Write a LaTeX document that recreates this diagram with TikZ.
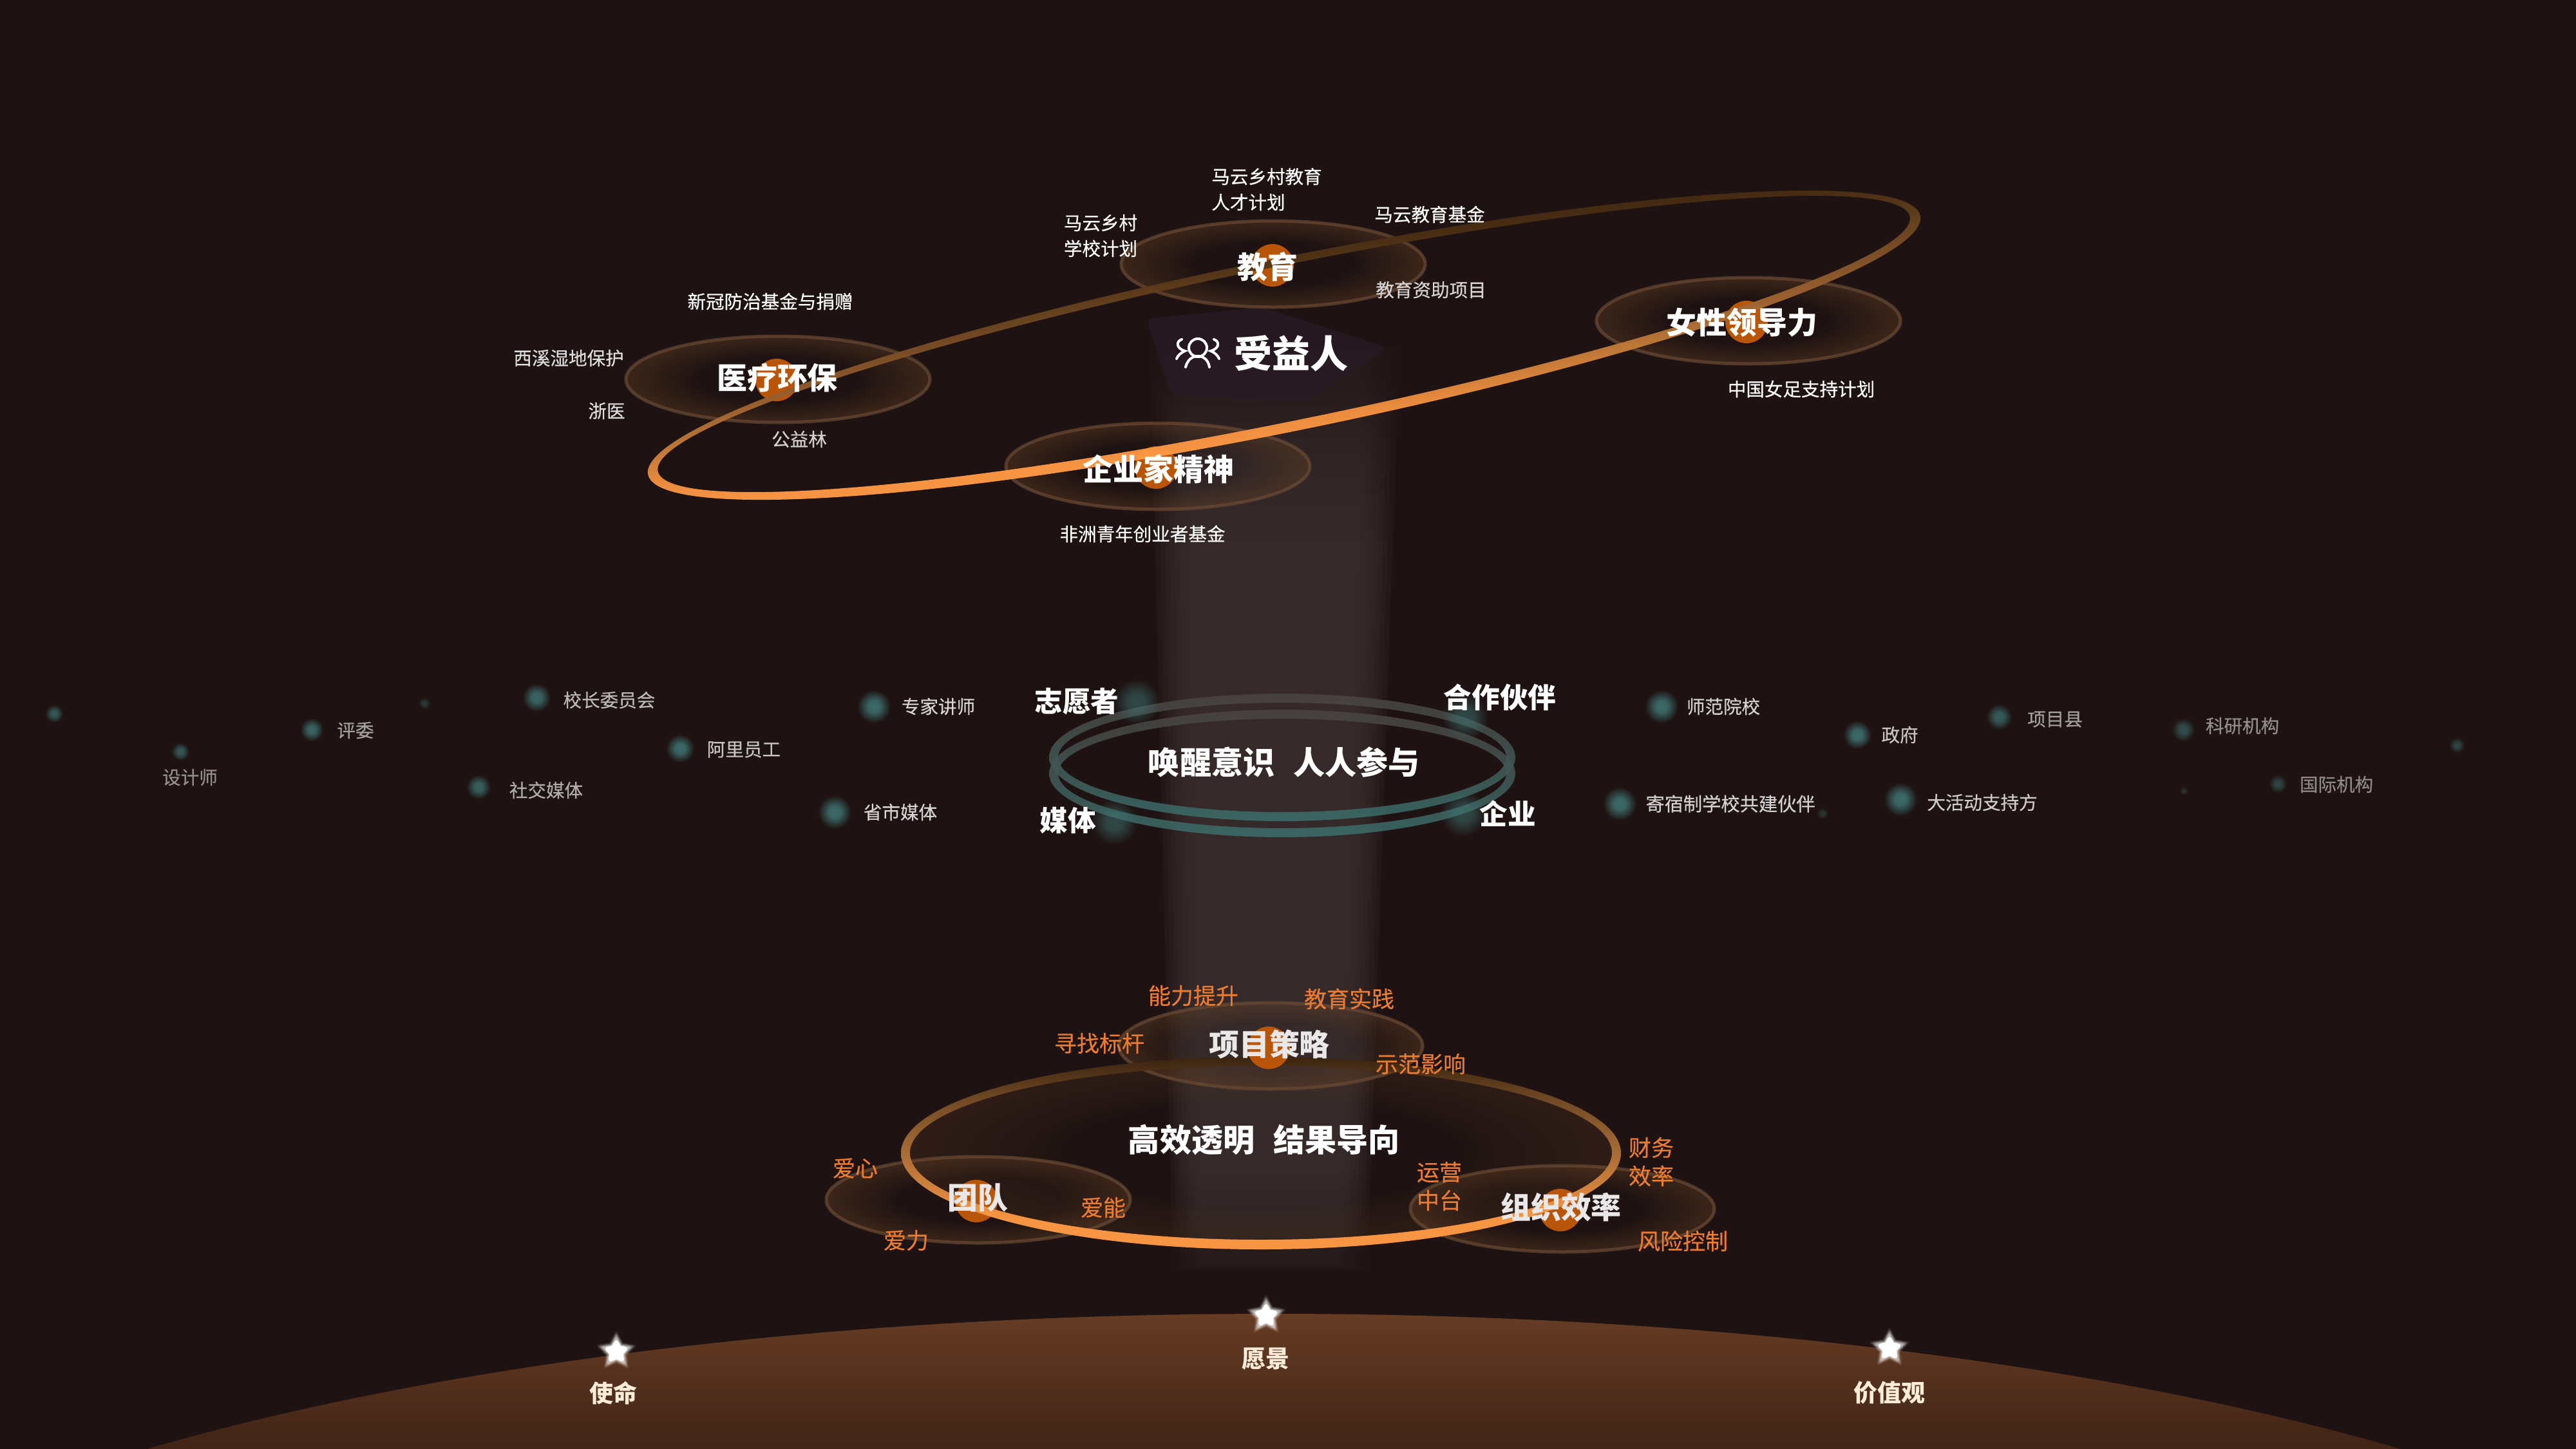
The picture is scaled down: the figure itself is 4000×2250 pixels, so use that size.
\documentclass[tikz,border=0pt]{standalone}
\usepackage{fontspec}
\usetikzlibrary{fadings,shapes.geometric}
\newfontfamily\cjk{Noto Sans CJK SC}
\newfontfamily\cjkmid[FakeBold=0.35]{Noto Sans CJK SC}
\definecolor{bgc}{HTML}{1E1312}
\definecolor{bandc}{HTML}{3C3130}
\definecolor{glowc}{HTML}{6E4526}
\definecolor{rimc}{HTML}{6A4A34}
\definecolor{dotc}{HTML}{B85508}
\definecolor{tealc}{HTML}{3F7573}
\definecolor{tealring}{HTML}{3B6F6C}
\definecolor{ringtop}{HTML}{4A4441}
\definecolor{orangetxt}{HTML}{E97B33}
\definecolor{purplec}{HTML}{281A26}
\definecolor{domet}{HTML}{663C24}
\definecolor{domeb}{HTML}{402416}
\definecolor{orbA}{HTML}{FF9A45}
\definecolor{orbB}{HTML}{F29040}
\definecolor{orbC}{HTML}{C07A38}
\definecolor{orbD}{HTML}{9A6030}
\definecolor{orbE}{HTML}{6B4520}
\definecolor{orbF}{HTML}{4A2F14}
\definecolor{orbG}{HTML}{3A2410}
\definecolor{lowB}{HTML}{AD7038}
\definecolor{lowC}{HTML}{6F4824}
\def\px{0.7113pt}
% fadings
\pgfdeclareverticalshading{colmask}{100bp}{color(0bp)=(pgftransparent!100); color(25bp)=(pgftransparent!100); color(31bp)=(pgftransparent!0); color(63bp)=(pgftransparent!0); color(75bp)=(pgftransparent!100); color(100bp)=(pgftransparent!100)}
\pgfdeclarefading{colfade}{\pgfuseshading{colmask}}
\pgfdeclareradialshading{glowmask}{\pgfpointorigin}{color(0bp)=(pgftransparent!100); color(13bp)=(pgftransparent!100); color(25bp)=(pgftransparent!62); color(50bp)=(pgftransparent!62)}
\pgfdeclarefading{glowfade}{\pgfuseshading{glowmask}}
\pgfdeclareradialshading{softmask}{\pgfpointorigin}{color(0bp)=(pgftransparent!0); color(9bp)=(pgftransparent!10); color(25bp)=(pgftransparent!100); color(50bp)=(pgftransparent!100)}
\pgfdeclarefading{softfade}{\pgfuseshading{softmask}}
% ring shadings
\pgfdeclareverticalshading{orbitup}{100bp}{color(0bp)=(orbA); color(39bp)=(orbA); color(42bp)=(orbB); color(46bp)=(orbC); color(50bp)=(orbD); color(56bp)=(orbE); color(61bp)=(orbF); color(65bp)=(orbG); color(100bp)=(orbG)}
\pgfdeclareverticalshading{orbitlow}{100bp}{color(0bp)=(orbA); color(25bp)=(orbA); color(33bp)=(orbA); color(50bp)=(lowB); color(65bp)=(lowC); color(75bp)=(orbG); color(100bp)=(orbG)}
\tikzset{
  x=0.025cm,y=-0.025cm,
  bene/.style={font=\cjk\bfseries\fontsize{42}{50}\selectfont,text=white,inner sep=0},
  hub/.style={font=\cjk\bfseries\fontsize{33.4}{40}\selectfont,text=white,inner sep=0},
  motto/.style={font=\cjk\bfseries\fontsize{34.9}{42}\selectfont,text=white,inner sep=0},
  party/.style={font=\cjk\bfseries\fontsize{31}{38}\selectfont,text=white,inner sep=0},
  tiny/.style={font=\cjkmid\fontsize{20.3}{28.4}\selectfont,text=white,inner sep=0,align=left},
  far/.style={tiny,text=#1},
  ambertxt/.style={font=\cjkmid\fontsize{24.9}{31.3}\selectfont,text=orangetxt,inner sep=0,align=left},
  foot/.style={font=\cjk\bfseries\fontsize{26.3}{32}\selectfont,text=#1,inner sep=0},
  glowdisc/.style={fill=glowc,path fading=glowfade,fit fading=true},
  rim/.style={draw=rimc,draw opacity=.7,line width=5*\px},
  tealdot/.style={fill=tealc,path fading=softfade,fit fading=true},
  corebead/.style={fill=dotc},
}
\newcommand{\hubglow}[2]{%
  \fill[glowdisc] (#1,#2) ellipse [x radius=236,y radius=67];
  \draw[rim] (#1,#2) ellipse [x radius=236,y radius=67];}
\newcommand{\softdot}[4]{\fill[tealdot,opacity=#4] (#1,#2) circle [radius=#3];}
\newcommand{\glint}[2]{%
  \begin{scope}[shift={(#1,#2)}]
    \foreach \r/\o in {30/.08,27/.12,24/.2,21/.3}{
      \node[star,star points=5,star point ratio=1.9,fill=white,draw=white,line width=4*\px,line join=round,opacity=\o,transparency group,inner sep=0,minimum size=2*\r*0.025cm] at (0,0) {};}
    \node[star,star points=5,star point ratio=1.8,fill=white,draw=white,line width=6*\px,line join=round,inner sep=0,minimum size=2*15*0.025cm] at (0,0) {};
  \end{scope}}
\begin{document}
\begin{tikzpicture}
\useasboundingbox (0,0) rectangle (4000,2250);
\fill[bgc] (0,0) rectangle (4000,2250);
% column
\foreach \k in {0,...,7}{
  \pgfmathsetmacro\la{1785+\k*8}
  \pgfmathsetmacro\ra{2175-\k*8}
  \pgfmathsetmacro\lb{1822+\k*6}
  \pgfmathsetmacro\rb{2122-\k*6}
  \fill[bandc,opacity=.2,path fading=colfade,fit fading=true] (\la,480) -- (\ra,480) -- (\rb,2000) -- (\lb,2000) -- cycle;
}
% purple patch
\fill[purplec,opacity=.75,rounded corners=12*\px] (1780,495) -- (1960,477) -- (2155,540) -- (2027,625) -- (1817,612) -- cycle;
% dome
\begin{scope}
  \clip (1978,2747) ellipse [x radius=2460,y radius=707];
  \shade[top color=domet,bottom color=domeb] (0,2040) rectangle (4000,2250);
\end{scope}
% top hubs glows
\hubglow{1977}{410}
\hubglow{2715}{498}
\hubglow{1208}{589}
\hubglow{1798}{724}
\fill[corebead] (1976,412) circle [radius=33];
\fill[corebead] (2712,500) circle [radius=33];
\fill[corebead] (1206,590) circle [radius=33];
\fill[corebead] (1795,726) circle [radius=33];
% big orbit
\begin{scope}[shift={(1994,536)},rotate=11.5]
  \shade[shading=orbitup,shading angle=6,even odd rule,opacity=.96]
    (0,0) ellipse [x radius=1008,y radius=134]
    (0,-2) ellipse [x radius=992,y radius=120];
\end{scope}
% teal double rings
\foreach \cy in {1176,1201}{
  \shade[top color=ringtop,bottom color=tealring,even odd rule,opacity=.85]
    (1991,\cy) ellipse [x radius=362,y radius=99]
    (1991,\cy) ellipse [x radius=348,y radius=85];
}
\softdot{1765}{1090}{36}{.55}
\softdot{2275}{1113}{36}{.55}
\softdot{1730}{1276}{36}{.55}
\softdot{2272}{1263}{36}{.55}
% lower hub glows
\fill[glowc,opacity=.6,path fading=glowfade,fit fading=true] (1958,1790) ellipse [x radius=556,y radius=148];
\hubglow{1973}{1624}
\hubglow{1519}{1863}
\hubglow{2426}{1877}
\fill[corebead] (1516,1865) circle [radius=33];
\fill[corebead] (2423,1879) circle [radius=33];
\shade[shading=orbitlow,even odd rule,opacity=.96]
  (1958,1790.5) ellipse [x radius=559,y radius=149.5]
  (1958,1790) ellipse [x radius=545,y radius=135];
\fill[corebead] (1970,1627) circle [radius=33];
% scattered dots
\softdot{84}{1108}{14}{.7}
\softdot{659}{1092}{9}{.4}
\softdot{484}{1133}{18}{.85}
\softdot{280}{1167}{14}{.7}
\softdot{833}{1083}{22}{.85}
\softdot{1357}{1097}{26}{.9}
\softdot{1056}{1162}{22}{.9}
\softdot{743}{1222}{19}{.8}
\softdot{1296}{1261}{26}{.9}
\softdot{2580}{1097}{26}{.9}
\softdot{2884}{1141}{22}{.9}
\softdot{3104}{1113}{20}{.75}
\softdot{3390}{1133}{18}{.6}
\softdot{3815}{1157}{12}{.5}
\softdot{3537}{1217}{14}{.5}
\softdot{3391}{1228}{7}{.3}
\softdot{2515}{1248}{26}{.9}
\softdot{2830}{1263}{9}{.35}
\softdot{2951}{1241}{26}{.9}
% icon
\begin{scope}[shift={(1860,548)},draw=white,line width=4*\px,line cap=round]
  \draw (0,-8) circle [radius=14];
  \draw (-19,22) .. controls (-16,10) and (-8,5) .. (0,5) .. controls (8,5) and (16,10) .. (18,22);
  \draw (-25,-21) .. controls (-34,-18) and (-34,-7) .. (-20,-3) .. controls (-27,0) and (-31,4) .. (-33,9);
  \draw (25,-21) .. controls (34,-18) and (34,-7) .. (20,-3) .. controls (27,0) and (31,4) .. (33,9);
\end{scope}
% stars
\glint{957}{2099}
\glint{1966}{2043}
\glint{2934}{2094}
% text top
\node[bene] (benef) at (2005,549) {受益人};
\node[hub] (edu) at (1968,414) {教育};
\node[hub] (women) at (2705,501) {女性领导力};
\node[hub] (med) at (1207,587) {医疗环保};
\node[hub] (ent) at (1799,728) {企业家精神};
\node[tiny] (t1) at (1967,294) {马云乡村教育\\人才计划};
\node[tiny] (t2) at (1709,366) {马云乡村\\学校计划};
\node[tiny] (t3) at (2220,333) {马云教育基金};
\node[far=white!82!bgc] (t4) at (2222,450) {教育资助项目};
\node[tiny] (t5) at (1196,468) {新冠防治基金与捐赠};
\node[far=white!85!bgc] (t6) at (883,556) {西溪湿地保护};
\node[far=white!85!bgc] (t7) at (942,638) {浙医};
\node[far=white!80!bgc] (t8) at (1241,682) {公益林};
\node[tiny] (t9) at (2797,604) {中国女足支持计划};
\node[tiny] (t10) at (1774,829) {非洲青年创业者基金};
% middle
\node[motto] (wake) at (1994,1183) {唤醒意识\hspace{0.6em}人人参与};
\node[party] (p1) at (1672,1089) {志愿者};
\node[party] (p2) at (2329,1083) {合作伙伴};
\node[party] (p3) at (1658,1274) {媒体};
\node[party] (p4) at (2341,1263) {企业};
\node[far=white!60!bgc] (m1) at (552,1134) {评委};
\node[far=white!52!bgc] (m2) at (295,1207) {设计师};
\node[far=white!70!bgc] (m3) at (946,1087) {校长委员会};
\node[far=white!82!bgc] (m4) at (1457,1097) {专家讲师};
\node[far=white!75!bgc] (m5) at (1155,1164) {阿里员工};
\node[far=white!65!bgc] (m6) at (848,1227) {社交媒体};
\node[far=white!82!bgc] (m7) at (1398,1261) {省市媒体};
\node[far=white!80!bgc] (m8) at (2676,1097) {师范院校};
\node[far=white!75!bgc] (m9) at (2950,1141) {政府};
\node[far=white!60!bgc] (m10) at (3191,1117) {项目县};
\node[far=white!52!bgc] (m11) at (3482,1127) {科研机构};
\node[far=white!50!bgc] (m12) at (3628,1218) {国际机构};
\node[far=white!80!bgc,font=\cjkmid\fontsize{20.8}{28.4}\selectfont] (m13) at (2687,1248) {寄宿制学校共建伙伴};
\node[far=white!78!bgc] (m14) at (3078,1246) {大活动支持方};
% bottom
\node[motto] (res) at (1963,1770) {高效透明\hspace{0.6em}结果导向};
\node[hub,text=white!90!bgc] (strat) at (1971,1622) {项目策略};
\node[hub,text=white!90!bgc] (team) at (1518,1860) {团队};
\node[hub,text=white!90!bgc] (org) at (2424,1875) {组织效率};
\node[ambertxt] (o1) at (1853,1546) {能力提升};
\node[ambertxt] (o2) at (2095,1551) {教育实践};
\node[ambertxt] (o3) at (1707,1620) {寻找标杆};
\node[ambertxt] (o4) at (2206,1652) {示范影响};
\node[ambertxt] (o5) at (1328,1814) {爱心};
\node[ambertxt] (o6) at (1713,1875) {爱能};
\node[ambertxt] (o7) at (1407,1926) {爱力};
\node[ambertxt] (o8) at (2235,1842) {运营\\中台};
\node[ambertxt] (o9) at (2564,1804) {财务\\效率};
\node[ambertxt] (o10) at (2613,1927) {风险控制};
\node[foot=orange!15!white] (f1) at (952,2163) {使命};
\node[foot=orange!15!white] (f2) at (1965,2110) {愿景};
\node[foot=orange!15!white] (f3) at (2934,2163) {价值观};
\end{tikzpicture}
\end{document}
